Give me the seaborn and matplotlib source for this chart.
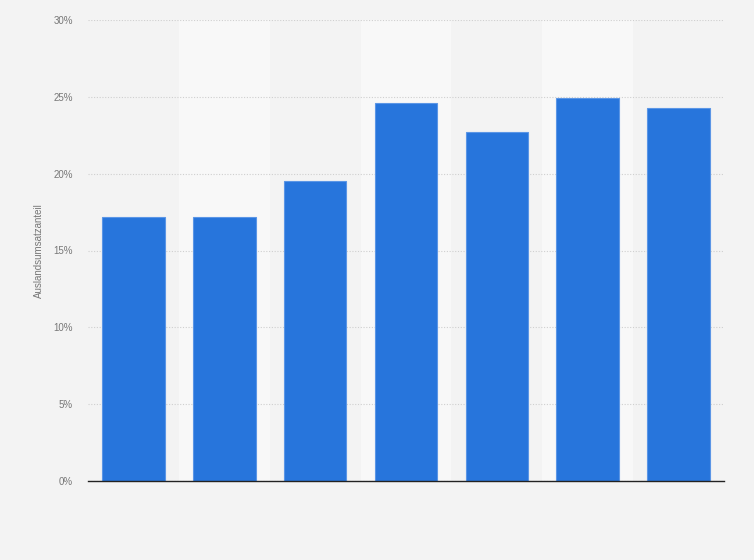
import pandas as pd
import matplotlib.pyplot as plt
import seaborn as sns

# Values (share of foreign sales, %)
categories = ['1', '2', '3', '4', '5', '6', '7']
values = [17.2, 17.2, 19.5, 24.6, 22.7, 24.9, 24.3]
yticks = [0, 5, 10, 15, 20, 25, 30]

df = pd.DataFrame({'Kategorie': categories, 'Anteil': values})

sns.set_style('white')
plt.rcParams['font.family'] = ['Liberation Sans', 'DejaVu Sans']

fig = plt.figure(figsize=(7.54, 5.60), dpi=100)
fig.patch.set_facecolor('#f3f3f3')
ax = fig.add_axes([88 / 754, 79 / 560, 636 / 754, 461 / 560])
ax.set_facecolor('#f3f3f3')

# alternating lighter column bands
for i in range(len(categories)):
    if i % 2 == 1:
        ax.axvspan(i - 0.5, i + 0.5, color='#f8f8f8', zorder=0, lw=0)

sns.barplot(data=df, x='Kategorie', y='Anteil', color='#2775dc', width=0.69,
            saturation=1, edgecolor='#5b96e6', linewidth=0.8, ax=ax, zorder=3)

ax.set_xlim(-0.5, len(categories) - 0.5)
ax.set_ylim(0, 30)
ax.set_yticks(yticks)
ax.set_yticklabels([f'{t}%' for t in yticks], color='#777777', fontsize=7)
ax.yaxis.grid(True, linestyle=(0, (1, 1.5)), color='#cfcfcf', linewidth=0.8, zorder=1)
ax.set_axisbelow(True)
ax.tick_params(axis='y', length=0, pad=11)
ax.tick_params(axis='x', length=0)
ax.set_xticklabels([])
ax.set_xlabel('')
ax.set_ylabel('Auslandsumsatzanteil', color='#777777', fontsize=7, labelpad=7)

for s in ['top', 'right', 'left']:
    ax.spines[s].set_visible(False)
ax.spines['bottom'].set_color('#222222')
ax.spines['bottom'].set_linewidth(1.0)
ax.spines['bottom'].set_zorder(5)

fig.savefig('out.png', dpi=100, facecolor=fig.get_facecolor())
